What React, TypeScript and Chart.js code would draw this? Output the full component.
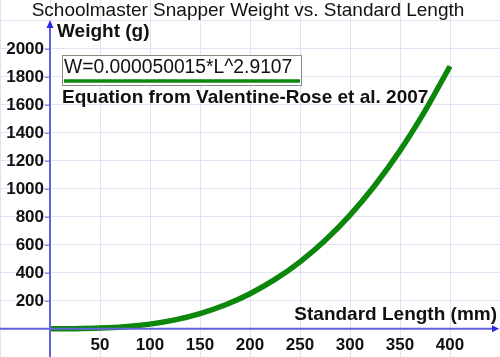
import React, { useEffect, useRef } from "react";
import { Chart, registerables } from "chart.js";

Chart.register(...registerables);

const TITLE = "Schoolmaster Snapper Weight vs. Standard Length";
const Y_LABEL = "Weight (g)";
const X_LABEL = "Standard Length (mm)";
const EQUATION = "W=0.000050015*L^2.9107";
const SOURCE = "Equation from Valentine-Rose et al. 2007";

const lengths = [0, 25, 50, 75, 100, 125, 150, 175, 200, 225, 250, 275, 300, 325, 350, 375, 400];
const weights = [0, 0.6, 4.4, 14.4, 33, 63, 108, 169, 250, 352, 478, 630, 812, 1025, 1272, 1556, 1875];

const xTicks = [50, 100, 150, 200, 250, 300, 350, 400];
const yTicks = [200, 400, 600, 800, 1000, 1200, 1400, 1600, 1800, 2000];

const X_MIN = -50;
const X_MAX = 450;
const Y_MIN = -202;
const Y_MAX = 2348;

const AXIS_COLOR = "#6262dc";
const ARROW_COLOR = "#2a2ae6";
const GRID_COLOR = "#e2e2f4";
const CURVE_COLOR = "#0c870c";

const overlayPlugin = {
  id: "overlay",
  afterDatasetsDraw(chart: any) {
    const ctx = chart.ctx;
    const xs = chart.scales.x;
    const ys = chart.scales.y;
    const x0 = xs.getPixelForValue(0);
    const y0 = ys.getPixelForValue(0);
    const area = chart.chartArea;
    ctx.save();
    // axes lines
    ctx.strokeStyle = AXIS_COLOR;
    ctx.lineWidth = 2;
    ctx.beginPath();
    ctx.moveTo(area.left, y0);
    ctx.lineTo(area.right - 6, y0);
    ctx.moveTo(x0, area.bottom);
    ctx.lineTo(x0, area.top + 26);
    ctx.stroke();
    // arrows
    ctx.fillStyle = ARROW_COLOR;
    ctx.beginPath();
    ctx.moveTo(area.right - 1, y0);
    ctx.lineTo(area.right - 8, y0 - 3.5);
    ctx.lineTo(area.right - 8, y0 + 3.5);
    ctx.closePath();
    ctx.fill();
    ctx.beginPath();
    ctx.moveTo(x0, area.top + 20);
    ctx.lineTo(x0 - 3.5, area.top + 28);
    ctx.lineTo(x0 + 3.5, area.top + 28);
    ctx.closePath();
    ctx.fill();
    // y tick marks + labels
    ctx.font = "bold 17px Arial, 'Liberation Sans', sans-serif";
    ctx.fillStyle = "#111";
    ctx.textAlign = "right";
    ctx.textBaseline = "middle";
    ctx.strokeStyle = AXIS_COLOR;
    ctx.lineWidth = 1;
    for (const v of yTicks) {
      const py = ys.getPixelForValue(v);
      ctx.beginPath();
      ctx.moveTo(x0 - 5, py + 0.5);
      ctx.lineTo(x0, py + 0.5);
      ctx.stroke();
      ctx.fillText(String(v), x0 - 6, py + 1);
    }
    // x labels
    ctx.textAlign = "center";
    ctx.textBaseline = "top";
    for (const v of xTicks) {
      const px = xs.getPixelForValue(v);
      ctx.fillText(String(v), px, y0 + 8);
    }
    // title
    ctx.fillStyle = "#111";
    ctx.font = "19px Arial, 'Liberation Sans', sans-serif";
    ctx.textAlign = "center";
    ctx.textBaseline = "middle";
    ctx.fillText(TITLE, 248, 11);
    // y axis label
    ctx.font = "bold 19px Arial, 'Liberation Sans', sans-serif";
    ctx.textAlign = "left";
    ctx.fillText(Y_LABEL, x0 + 7, 32);
    // x axis label
    ctx.textAlign = "right";
    ctx.fillText(X_LABEL, 497, y0 - 14);
    // equation box
    ctx.fillStyle = "#ffffff";
    ctx.fillRect(62, 55, 239, 30);
    ctx.strokeStyle = "#8a8a8a";
    ctx.lineWidth = 1;
    ctx.strokeRect(62.5, 55.5, 239, 30);
    ctx.fillStyle = "#111";
    ctx.font = "19.3px Arial, 'Liberation Sans', sans-serif";
    ctx.textAlign = "left";
    ctx.fillText(EQUATION, 64, 68);
    ctx.strokeStyle = CURVE_COLOR;
    ctx.lineWidth = 3.5;
    ctx.beginPath();
    ctx.moveTo(64, 81);
    ctx.lineTo(300, 81);
    ctx.stroke();
    // source
    ctx.fillStyle = "#111";
    ctx.font = "bold 19px Arial, 'Liberation Sans', sans-serif";
    ctx.fillText(SOURCE, 62, 98);
    ctx.restore();
  },
};

export default function App() {
  const ref = useRef<HTMLCanvasElement | null>(null);
  useEffect(() => {
    document.body.style.margin = "0";
    const canvas = ref.current;
    if (!canvas) return;
    const chart = new Chart(canvas, {
      type: "scatter",
      data: {
        datasets: [
          {
            data: lengths.map((l, i) => ({ x: l, y: weights[i] })),
            showLine: true,
            borderColor: CURVE_COLOR,
            borderWidth: 5.5,
            pointRadius: 0,
            cubicInterpolationMode: "monotone",
            fill: false,
          },
        ],
      },
      options: {
        animation: false,
        responsive: false,
        layout: { padding: 0 },
        plugins: { legend: { display: false }, tooltip: { enabled: false }, title: { display: false } },
        scales: {
          x: {
            type: "linear",
            min: X_MIN,
            max: X_MAX,
            display: true,
            position: "bottom",
            border: { display: false },
            grid: { color: GRID_COLOR, drawTicks: false, lineWidth: 1 },
            ticks: { display: false, stepSize: 50 },
            afterFit: (s: any) => { s.height = 0; },
          },
          y: {
            type: "linear",
            min: Y_MIN,
            max: Y_MAX,
            display: true,
            position: "left",
            border: { display: false },
            grid: {
              color: (c: any) => (c.tick && c.tick.value % 200 === 0 ? GRID_COLOR : "rgba(0,0,0,0)"),
              drawTicks: false,
              lineWidth: 1,
            },
            ticks: { display: false, stepSize: 200 },
            afterFit: (s: any) => { s.width = 0; },
          },
        },
      },
      plugins: [overlayPlugin],
    });
    return () => chart.destroy();
  }, []);
  return (
    <div style={{ width: 500, height: 357, background: "#fff" }}>
      <canvas ref={ref} width={500} height={357} style={{ display: "block" }} />
    </div>
  );
}
